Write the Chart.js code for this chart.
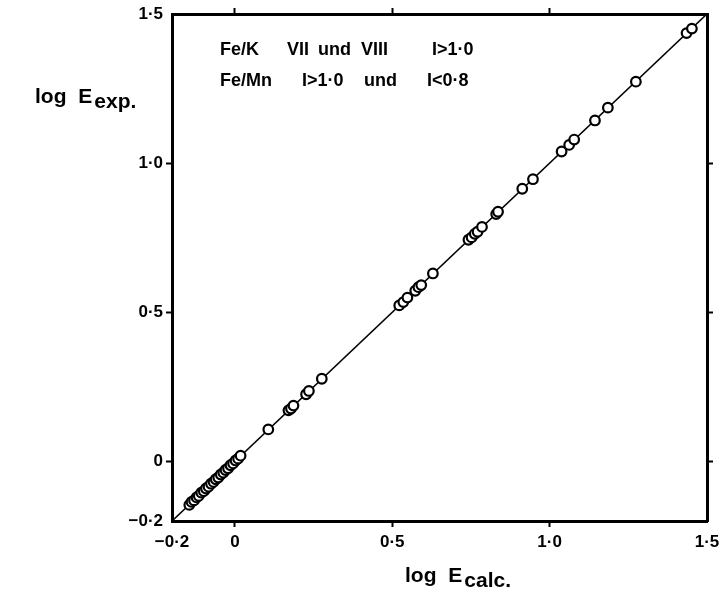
<!DOCTYPE html>
<html>
<head>
<meta charset="utf-8">
<script src="https://cdn.jsdelivr.net/npm/chart.js@4/dist/chart.umd.min.js"></script>
<style>
  html, body { margin: 0; padding: 0; background: #fff; }
  #wrap { width: 726px; height: 598px; position: relative; }
</style>
</head>
<body>
<div id="wrap"><canvas id="chart" width="726" height="598"></canvas></div>
<script>
// log E calculated vs. log E experimental, Fe/K and Fe/Mn systems
const logECalc = [
  -0.145, -0.138, -0.130, -0.122, -0.115, -0.107, -0.099, -0.092, -0.084, -0.076, -0.068,
  -0.061, -0.053, -0.045, -0.037, -0.030, -0.022, -0.014, -0.006, 0.002, 0.010, 0.018,
  0.106, 0.170, 0.178, 0.186, 0.226, 0.235, 0.276,
  0.522, 0.535, 0.548, 0.573, 0.583, 0.592, 0.629,
  0.742, 0.752, 0.762, 0.771, 0.785, 0.830, 0.836,
  0.913, 0.947, 1.038, 1.062, 1.078, 1.144, 1.185, 1.274, 1.435, 1.452
];
const logEExp = [
  -0.146, -0.136, -0.131, -0.121, -0.116, -0.105, -0.100, -0.091, -0.085, -0.075, -0.069,
  -0.060, -0.054, -0.044, -0.038, -0.029, -0.023, -0.013, -0.007, 0.003, 0.009, 0.019,
  0.107, 0.171, 0.177, 0.187, 0.225, 0.236, 0.277,
  0.523, 0.534, 0.549, 0.572, 0.584, 0.591, 0.630,
  0.743, 0.751, 0.763, 0.770, 0.786, 0.829, 0.837,
  0.914, 0.946, 1.039, 1.061, 1.079, 1.143, 1.186, 1.273, 1.436, 1.451
];
// ends of the line of equality log E exp. = log E calc.
const equalityLine = [-0.2, 1.5];

const tickValues = [-0.2, 0, 0.5, 1.0, 1.5];
const tickLabels = ['\u22120\u00b72', '0', '0\u00b75', '1\u00b70', '1\u00b75'];
const markedTicks = [0, 0.5, 1.0];

// caption words, each with its left edge
const noteLine1 = [['Fe/K', 220], ['VII', 287], ['und', 318], ['VIII', 361], ['I>1\u00b70', 432]];
const noteLine2 = [['Fe/Mn', 220], ['I>1\u00b70', 302], ['und', 364], ['I<0\u00b78', 427]];
const yTitle = ['log E', 'exp.'];
const xTitle = ['log E', 'calc.'];

const FONT = '"Liberation Sans", Arial, sans-serif';

const points = logECalc.map((x, i) => ({ x: x, y: logEExp[i] }));
const linePts = equalityLine.map(v => ({ x: v, y: v }));

function setTicks(scale) {
  scale.ticks = tickValues.map(v => ({ value: v }));
}
function labelFor(v) {
  const i = tickValues.findIndex(t => Math.abs(t - v) < 1e-9);
  return i >= 0 ? tickLabels[i] : '';
}
function markColor(ctx) {
  const v = ctx.tick ? ctx.tick.value : null;
  return markedTicks.some(t => v !== null && Math.abs(t - v) < 1e-9) ? '#000' : 'rgba(0,0,0,0)';
}
function axis(position, showLabels, size) {
  const horizontal = position === 'top' || position === 'bottom';
  return {
    type: 'linear',
    position: position,
    min: -0.2,
    max: 1.5,
    afterBuildTicks: setTicks,
    afterFit: s => { if (horizontal) s.height = size; else s.width = size; },
    ticks: {
      display: showLabels,
      autoSkip: false,
      maxRotation: 0,
      padding: horizontal ? 5 : 3,
      color: '#000',
      font: { family: FONT, size: 17, weight: 'bold' },
      callback: v => labelFor(v)
    },
    grid: {
      display: true,
      drawOnChartArea: false,
      drawTicks: true,
      tickLength: 6,
      tickWidth: 2,
      tickColor: markColor
    },
    border: { display: true, color: '#000', width: 3 }
  };
}

// captions and axis titles drawn over the chart
const captions = {
  id: 'captions',
  afterDraw(chart) {
    const ctx = chart.ctx;
    ctx.save();
    ctx.fillStyle = '#000';
    ctx.textBaseline = 'alphabetic';
    ctx.textAlign = 'left';
    ctx.font = 'bold 18px ' + FONT;
    noteLine1.forEach(([t, x]) => ctx.fillText(t, x, 55));
    noteLine2.forEach(([t, x]) => ctx.fillText(t, x, 86));

    // title with a lowered index of about the same size
    function titled(parts, x, y) {
      ctx.font = 'bold 21px ' + FONT;
      if ('wordSpacing' in ctx) ctx.wordSpacing = '6px';
      ctx.fillText(parts[0], x, y);
      const w = ctx.measureText(parts[0]).width;
      if ('wordSpacing' in ctx) ctx.wordSpacing = '0px';
      ctx.font = 'bold 21px ' + FONT;
      ctx.fillText(parts[1], x + w + 2, y + 5);
    }
    titled(yTitle, 35, 103);
    titled(xTitle, 405, 582);
    ctx.restore();
  }
};

new Chart(document.getElementById('chart'), {
  type: 'scatter',
  data: {
    datasets: [
      {
        label: 'log E',
        data: points,
        showLine: false,
        pointStyle: 'circle',
        pointRadius: 4.8,
        pointBorderWidth: 2.2,
        pointBackgroundColor: '#fff',
        pointBorderColor: '#000',
        order: 0
      },
      {
        label: 'equality',
        data: linePts,
        showLine: true,
        borderColor: '#000',
        borderWidth: 1.6,
        pointRadius: 0,
        fill: false,
        order: 1
      }
    ]
  },
  options: {
    responsive: false,
    animation: false,
    devicePixelRatio: 1,
    layout: { padding: { left: 0, right: 0, top: 0, bottom: 0 } },
    plugins: {
      legend: { display: false },
      tooltip: { enabled: false },
      title: { display: false }
    },
    scales: {
      x: axis('bottom', true, 77),
      y: axis('left', true, 172),
      x2: axis('top', false, 14),
      y2: axis('right', false, 19)
    }
  },
  plugins: [captions]
});
</script>
</body>
</html>
